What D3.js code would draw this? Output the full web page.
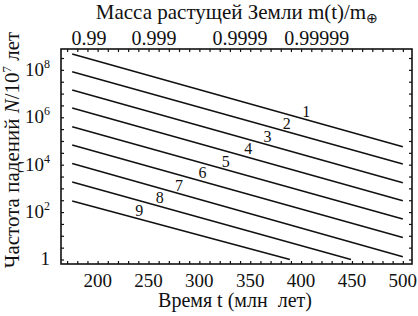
<!DOCTYPE html>
<html>
<head>
<meta charset="utf-8">
<script src="https://cdn.jsdelivr.net/npm/d3@7"></script>
<style>
  body { margin: 0; background: #fff; }
  text { font-family: "Liberation Serif", "Times New Roman", serif; fill: #111; }
</style>
</head>
<body>
<div id="chart"></div>
<script>
// line endpoints: [t (Myr), log10 N]
var lineNames = ["1", "2", "3", "4", "5", "6", "7", "8", "9"];
var lineStarts = [[175, 8.67], [175, 7.92], [175, 7.15], [175, 6.39], [175, 5.60], [175, 4.83], [175, 4.05], [175, 3.27], [175, 2.47]];
var lineEnds = [[500, 4.76], [500, 4.03], [500, 3.24], [500, 2.48], [500, 1.71], [500, 0.93], [500, 0.12], [449, 0.0], [389, 0.0]];
// where the curve number sits along each line (t)
var labelT = [405, 386, 367, 348, 326, 303, 280, 261, 241];

var xTicks = [200, 250, 300, 350, 400, 450, 500];
var yTicks = [0, 2, 4, 6, 8];
var massLabels = ["0.99", "0.999", "0.9999", "0.99999"];
var massT = [191.5, 255.5, 340, 415.5];

var margin = { top: 49, right: 6, bottom: 52, left: 61 },
    width = 418 - margin.left - margin.right,
    height = 316 - margin.top - margin.bottom;

var svg = d3.select("#chart")
    .append("svg")
    .attr("width", 418)
    .attr("height", 316)
    .append("g")
    .attr("transform", "translate(" + margin.left + "," + margin.top + ")");

var x = d3.scaleLinear().domain([164, 509]).range([0, width]);
var y = d3.scaleLinear().domain([-0.19, 8.88]).range([height, 0]);

// ticks (inward, on all four sides)
var minorX = d3.range(170, 510, 10);
var minorY = d3.range(0, 8.9, 0.5);

svg.append("g")
    .attr("transform", "translate(0," + height + ")")
    .call(d3.axisTop(x).tickValues(minorX).tickSize(3).tickFormat(""))
    .call(function (g) { g.select(".domain").remove(); });
svg.append("g")
    .call(d3.axisBottom(x).tickValues(minorX).tickSize(3).tickFormat(""))
    .call(function (g) { g.select(".domain").remove(); });
svg.append("g")
    .call(d3.axisRight(y).tickValues(minorY).tickSize(3).tickFormat(""))
    .call(function (g) { g.select(".domain").remove(); });
svg.append("g")
    .attr("transform", "translate(" + width + ",0)")
    .call(d3.axisLeft(y).tickValues(minorY).tickSize(3).tickFormat(""))
    .call(function (g) { g.select(".domain").remove(); });
svg.selectAll(".tick line").attr("stroke", "#111").attr("stroke-width", 1.2);

// frame
svg.append("rect")
    .attr("width", width)
    .attr("height", height)
    .attr("fill", "none")
    .attr("stroke", "#111")
    .attr("stroke-width", 1.6);

// bottom tick labels
svg.selectAll(".xlab")
    .data(xTicks)
    .enter()
    .append("text")
    .attr("class", "xlab")
    .attr("x", function (d) { return x(d); })
    .attr("y", height + 23)
    .attr("text-anchor", "middle")
    .style("font-size", "19px")
    .text(function (d) { return d; });

// left tick labels
var ylab = svg.selectAll(".ylab")
    .data(yTicks)
    .enter()
    .append("text")
    .attr("class", "ylab")
    .attr("x", -11)
    .attr("y", function (d) { return y(d) + 6; })
    .attr("text-anchor", "end")
    .style("font-size", "19px");
ylab.filter(function (d) { return d == 0; }).text("1");
ylab.filter(function (d) { return d > 0; }).each(function (d) {
    var t = d3.select(this);
    t.append("tspan").text("10");
    t.append("tspan").attr("dy", -8).style("font-size", "12px").text(d);
});

// top mass labels
svg.selectAll(".mlab")
    .data(massLabels)
    .enter()
    .append("text")
    .attr("class", "mlab")
    .attr("x", function (d, i) { return x(massT[i]); })
    .attr("y", -4)
    .attr("text-anchor", "middle")
    .style("font-size", "20px")
    .text(function (d) { return d; });

// title on top
var title = svg.append("text")
    .attr("x", 237 - margin.left)
    .attr("y", 19 - margin.top)
    .attr("text-anchor", "middle")
    .style("font-size", "21px");
title.append("tspan").text("Масса растущей Земли m(t)/m");
title.append("tspan").attr("dy", 4).style("font-size", "14px").text("\u2295");

// x label
svg.append("text")
    .attr("x", 235 - margin.left)
    .attr("y", 307 - margin.top)
    .attr("text-anchor", "middle")
    .style("font-size", "20px")
    .style("white-space", "pre")
    .text("Время t (млн  лет)");

// y label
var ytitle = svg.append("text")
    .attr("transform", "translate(" + (19 - margin.left) + "," + (150 - margin.top) + ") rotate(-90)")
    .attr("text-anchor", "middle")
    .style("font-size", "21px");
ytitle.append("tspan").text("Частота падений ");
ytitle.append("tspan").style("font-style", "italic").text("N");
ytitle.append("tspan").text("/10");
ytitle.append("tspan").attr("dy", -8).style("font-size", "13px").text("7");
ytitle.append("tspan").attr("dy", 8).text(" лет");

// the nine lines
var lines = lineNames.map(function (name, i) {
    return { name: name, pts: [lineStarts[i], lineEnds[i]] };
});
var line = d3.line()
    .x(function (d) { return x(d[0]); })
    .y(function (d) { return y(d[1]); });

svg.selectAll(".curve")
    .data(lines)
    .enter()
    .append("path")
    .attr("class", "curve")
    .attr("d", function (d) { return line(d.pts); })
    .attr("fill", "none")
    .attr("stroke", "#111")
    .attr("stroke-width", 1.6);

// numbers above the lines
function valueAt(d, t) {
    var a = d.pts[0], b = d.pts[1];
    return a[1] + (b[1] - a[1]) * (t - a[0]) / (b[0] - a[0]);
}
svg.selectAll(".num")
    .data(lines)
    .enter()
    .append("text")
    .attr("class", "num")
    .attr("x", function (d, i) { return x(labelT[i]); })
    .attr("y", function (d, i) { return y(valueAt(d, labelT[i])) - 3; })
    .attr("text-anchor", "middle")
    .style("font-size", "16px")
    .text(function (d) { return d.name; });
</script>
</body>
</html>
